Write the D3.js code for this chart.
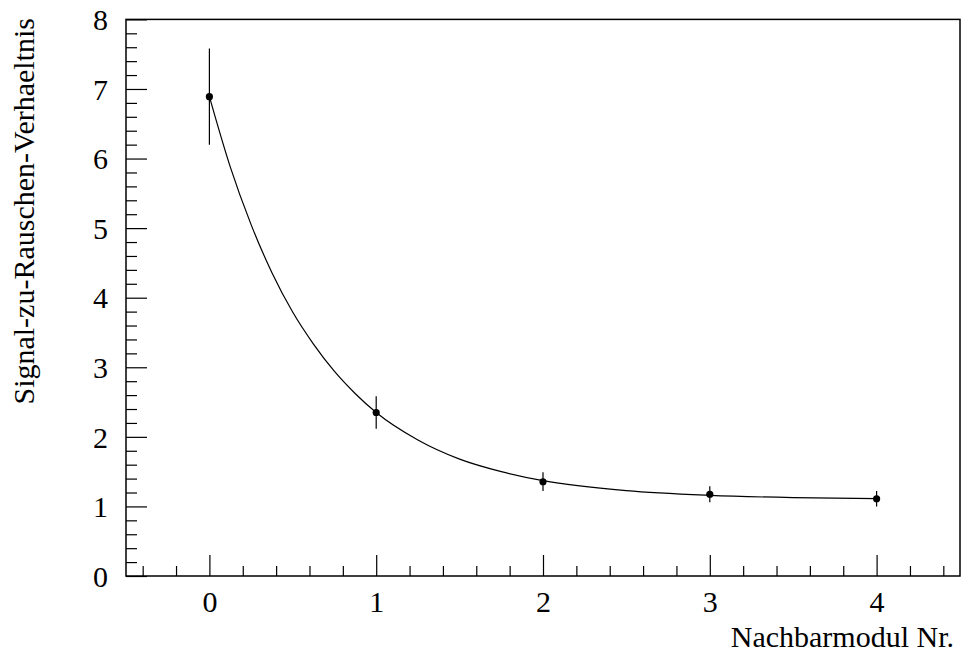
<!DOCTYPE html>
<html>
<head>
<meta charset="utf-8">
<script src="https://cdn.jsdelivr.net/npm/d3@7"></script>
<style>
  body { margin: 0; background: #fff; }
  svg { display: block; }
  text { font-family: "Liberation Serif", "Times New Roman", serif; fill: #000; }
</style>
</head>
<body>
<div id="chart"></div>
<script>
// measured points (module number, signal/noise ratio, error)
var moduleNr = [0, 1, 2, 3, 4];
var snRatio = [6.89, 2.35, 1.355, 1.175, 1.11];
var snError = [0.69, 0.235, 0.135, 0.115, 0.11];

// fit curve
var fitX = [0, 0.125, 0.25, 0.375, 0.5, 0.625, 0.75, 0.875, 1.0, 1.25, 1.5, 1.75, 2.0, 2.5, 3.0, 3.5, 4.0];
var fitY = [6.89, 5.88, 5.05, 4.36, 3.79, 3.33, 2.94, 2.62, 2.35, 1.955, 1.68, 1.50, 1.37, 1.226, 1.159, 1.127, 1.113];

var xTickLabels = [0, 1, 2, 3, 4];
var yTickLabels = [0, 1, 2, 3, 4, 5, 6, 7, 8];

var xTitle = "Nachbarmodul Nr.";
var yTitle = "Signal-zu-Rauschen-Verhaeltnis";

var width = 961, height = 654;
// note: "top" is taken by window.top, so use own names
var padLeft = 126, padRight = 960, padTop = 19.4, padBottom = 576;

var svg = d3.select("#chart").append("svg")
    .attr("width", width)
    .attr("height", height);

var x = d3.scaleLinear().domain([-0.5, 4.5]).range([padLeft, padRight]);
var y = d3.scaleLinear().domain([0, 8]).range([padBottom, padTop]);

// minor tick values every 0.2
var xMinor = d3.range(-2, 23).map(function(i) { return Math.round(i * 2) / 10; })
    .filter(function(v) { return v > -0.5 && v < 4.5 && Math.abs(v - Math.round(v)) > 0.01; });
var yMinor = d3.range(0, 41).map(function(i) { return Math.round(i * 2) / 10; })
    .filter(function(v) { return v < 8 && Math.abs(v - Math.round(v)) > 0.01; });

// x axis: minor then major ticks, pointing inside
svg.append("g")
    .attr("transform", "translate(0," + padBottom + ")")
    .call(d3.axisBottom(x).tickValues(xMinor).tickSize(-10).tickFormat(""))
    .call(function(g) { g.select(".domain").remove(); });

var xAxis = svg.append("g")
    .attr("transform", "translate(0," + padBottom + ")")
    .call(d3.axisBottom(x).tickValues(xTickLabels).tickSize(-21).tickFormat(d3.format("d")));
xAxis.select(".domain").remove();
xAxis.selectAll("text")
    .attr("y", 36)
    .attr("dy", 0)
    .style("font-size", "30px")
    .style("font-family", "Liberation Serif");

// y axis
svg.append("g")
    .attr("transform", "translate(" + padLeft + ",0)")
    .call(d3.axisLeft(y).tickValues(yMinor).tickSize(-11).tickFormat(""))
    .call(function(g) { g.select(".domain").remove(); });

var yAxis = svg.append("g")
    .attr("transform", "translate(" + padLeft + ",0)")
    .call(d3.axisLeft(y).tickValues(yTickLabels).tickSize(-21).tickFormat(d3.format("d")));
yAxis.select(".domain").remove();
yAxis.selectAll("text")
    .attr("x", -18)
    .attr("dy", "0.34em")
    .style("font-size", "30px")
    .style("font-family", "Liberation Serif");

svg.selectAll(".tick line").attr("stroke", "#000").attr("stroke-width", 1.2);

// frame
svg.append("rect")
    .attr("x", padLeft)
    .attr("y", padTop)
    .attr("width", padRight - padLeft)
    .attr("height", padBottom - padTop)
    .attr("fill", "none")
    .attr("stroke", "#000")
    .attr("stroke-width", 1.5);

// fit curve
var line = d3.line()
    .x(function(d, i) { return x(fitX[i]); })
    .y(function(d) { return y(d); })
    .curve(d3.curveMonotoneX);

svg.append("path")
    .datum(fitY)
    .attr("d", line)
    .attr("fill", "none")
    .attr("stroke", "#000")
    .attr("stroke-width", 1.2);

// error bars
svg.selectAll(".err")
    .data(moduleNr)
    .enter()
    .append("line")
    .attr("class", "err")
    .attr("x1", function(d) { return x(d); })
    .attr("x2", function(d) { return x(d); })
    .attr("y1", function(d, i) { return y(snRatio[i] - snError[i]); })
    .attr("y2", function(d, i) { return y(snRatio[i] + snError[i]); })
    .attr("stroke", "#000")
    .attr("stroke-width", 1.2);

// points
svg.selectAll(".pt")
    .data(moduleNr)
    .enter()
    .append("circle")
    .attr("class", "pt")
    .attr("cx", function(d) { return x(d); })
    .attr("cy", function(d, i) { return y(snRatio[i]); })
    .attr("r", 3.6)
    .attr("fill", "#000");

// titles
svg.append("text")
    .attr("x", 954)
    .attr("y", 647)
    .attr("text-anchor", "end")
    .style("font-size", "30px")
    .text(xTitle);

svg.append("text")
    .attr("transform", "translate(34," + 18 + ") rotate(-90)")
    .attr("text-anchor", "end")
    .style("font-size", "30px")
    .text(yTitle);
</script>
</body>
</html>
